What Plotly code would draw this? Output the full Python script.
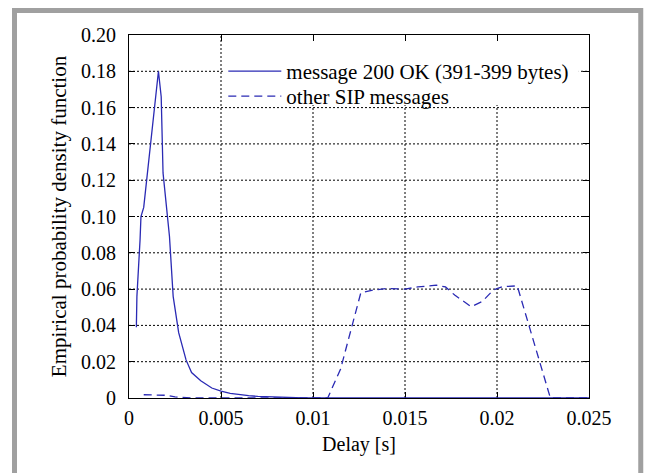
import plotly.graph_objects as go

# Empirical PDF of the SIP message delay
delay_ok = [0.0004, 0.00043, 0.0006, 0.00065, 0.0008, 0.0016, 0.00175, 0.00185,
            0.0022, 0.0024, 0.0027, 0.0031, 0.0034, 0.0039, 0.0045, 0.005,
            0.0055, 0.006, 0.0065, 0.007, 0.008, 0.009, 0.0095, 0.025]
pdf_ok = [0.039, 0.056, 0.087, 0.100, 0.105, 0.180, 0.166, 0.124,
          0.089, 0.056, 0.036, 0.021, 0.014, 0.0095, 0.0055, 0.0038,
          0.0026, 0.0018, 0.0013, 0.0009, 0.0006, 0.0004, 0.0, 0.0]

delay_other = [0.0008, 0.002, 0.0025, 0.003, 0.0035, 0.0108, 0.0115, 0.0126,
               0.0133, 0.014, 0.015, 0.0157, 0.0167, 0.0172, 0.0177, 0.0186,
               0.0192, 0.0198, 0.0203, 0.0211, 0.0229, 0.025]
pdf_other = [0.0018, 0.0015, 0.0006, 0.0002, 0.0, 0.0, 0.016, 0.058,
             0.0595, 0.0603, 0.0600, 0.0612, 0.0622, 0.0612, 0.0567, 0.0503,
             0.0532, 0.0595, 0.0613, 0.0618, 0.0, 0.0]

series_names = ["message 200 OK (391-399 bytes)", "other SIP messages"]

x_ticks = [0, 0.005, 0.01, 0.015, 0.02, 0.025]
x_tick_labels = ["0", "0.005", "0.01", "0.015", "0.02", "0.025"]
y_ticks = [0, 0.02, 0.04, 0.06, 0.08, 0.10, 0.12, 0.14, 0.16, 0.18, 0.20]
y_tick_labels = ["0", "0.02", "0.04", "0.06", "0.08", "0.10",
                 "0.12", "0.14", "0.16", "0.18", "0.20"]

FONT = "Liberation Serif, Times New Roman, serif"
LINE_BLUE = "#2a2ab4"
GRID = dict(color="#000000", width=1, dash="2px,2px")

fig = go.Figure()

# dotted grid at the interior tick positions
for xv in x_ticks[1:-1]:
    fig.add_shape(type="line", xref="x", yref="y", x0=xv, x1=xv,
                  y0=y_ticks[0], y1=y_ticks[-1], line=GRID, layer="below")
for yv in y_ticks[1:-1]:
    fig.add_shape(type="line", xref="x", yref="y", x0=x_ticks[0], x1=x_ticks[-1],
                  y0=yv, y1=yv, line=GRID, layer="below")

# white area behind the legend entries (same subplot layer, drawn over the grid)
fig.add_shape(type="rect", xref="x", yref="y", x0=0.0051, x1=0.02445,
              y0=0.1615, y1=0.2, fillcolor="white", line=dict(width=0), layer="below")

fig.add_trace(go.Scatter(x=delay_ok, y=pdf_ok, mode="lines", name=series_names[0],
                         line=dict(color=LINE_BLUE, width=1.3), legend="legend"))
fig.add_trace(go.Scatter(x=delay_other, y=pdf_other, mode="lines", name=series_names[1],
                         line=dict(color=LINE_BLUE, width=1.3, dash="8px,5px"),
                         legend="legend2"))

axis_common = dict(
    showline=True, linecolor="black", linewidth=1, mirror="ticks",
    ticks="inside", ticklen=6, tickcolor="black", tickwidth=1,
    showgrid=False, zeroline=False, layer="below traces",
    tickfont=dict(family=FONT, size=20, color="black"),
)

fig.update_xaxes(range=[0, 0.025], tickvals=x_ticks, ticktext=x_tick_labels,
                 ticklabelstandoff=2,
                 title=dict(text="Delay [s]", font=dict(family=FONT, size=20, color="black"),
                            standoff=8),
                 **axis_common)
fig.update_yaxes(range=[0, 0.2], tickvals=y_ticks, ticktext=y_tick_labels,
                 ticklabelstandoff=8,
                 title=dict(text="Empirical probability density function",
                            font=dict(family=FONT, size=21, color="black"), standoff=8),
                 **axis_common)

# grey frame around the figure
fig.add_shape(type="rect", xref="paper", yref="paper",
              x0=-0.2489, x1=1.1125, y0=-0.25, y1=1.0675,
              line=dict(color="#a0a0a0", width=5), fillcolor="rgba(0,0,0,0)", layer="above")

legend_style = dict(xanchor="left", yanchor="top", bgcolor="rgba(0,0,0,0)", borderwidth=0,
                    font=dict(family=FONT, size=21, color="black"), itemwidth=53)

fig.update_layout(
    width=646, height=473,
    margin=dict(l=129, r=57, t=35, b=75),
    paper_bgcolor="white", plot_bgcolor="white",
    font=dict(family=FONT, size=20, color="black"),
    legend=dict(x=0.205, y=0.956, **legend_style),
    legend2=dict(x=0.205, y=0.887, **legend_style),
    showlegend=True,
)

fig.write_html("out.html")
